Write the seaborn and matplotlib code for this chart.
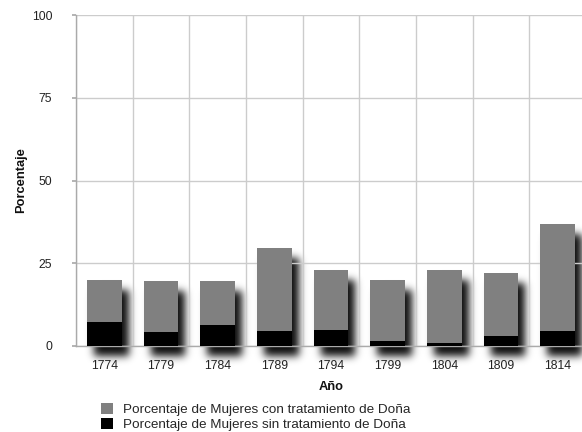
import numpy as np
import pandas as pd
import matplotlib
matplotlib.use('Agg')
import matplotlib.pyplot as plt
import seaborn as sns
from matplotlib.patches import Patch

years = ['1774', '1779', '1784', '1789', '1794', '1799', '1804', '1809', '1814']
con_dona = [19.9, 19.6, 19.6, 29.6, 23.1, 19.9, 23.1, 22.2, 36.8]   # gray bar height
sin_dona = [7.1, 4.1, 6.2, 4.5, 4.8, 1.6, 1.0, 2.9, 4.4]           # black bar height
y_ticks = [0, 25, 50, 75, 100]
legend_labels = ['Porcentaje de Mujeres con tratamiento de Doña',
                 'Porcentaje de Mujeres sin tratamiento de Doña']

GRAY = '#808080'
BLACK = '#000000'
GRID = '#cccccc'
BAR_W = 0.61

sns.set_theme(style='white')
plt.rcParams['font.family'] = ['Liberation Sans', 'DejaVu Sans']

W, H = 582, 432
fig = plt.figure(figsize=(W / 100, H / 100), dpi=100)
fig.patch.set_facecolor('white')
ax = fig.add_axes([76 / W, 86 / H, 510 / W, 331 / H])
ax.set_facecolor('none')

df = pd.DataFrame({'Año': years, 'con': con_dona, 'sin': sin_dona})
sns.barplot(data=df, x='Año', y='con', color=GRAY, saturation=1, width=BAR_W,
            ax=ax, zorder=3, linewidth=0)
sns.barplot(data=df, x='Año', y='sin', color=BLACK, saturation=1, width=BAR_W,
            ax=ax, zorder=4, linewidth=0)

ax.set_xlim(-0.5, len(years) - 0.5)
ax.set_ylim(0, 100)
ax.set_yticks(y_ticks)
ax.set_xticks(np.arange(-0.5, len(years)), minor=True)
ax.grid(which='major', axis='y', color=GRID, lw=1, zorder=0)
ax.grid(which='minor', axis='x', color=GRID, lw=1, zorder=0)
ax.grid(which='major', axis='x', visible=False)
ax.set_axisbelow(True)
for s in ['top', 'right']:
    ax.spines[s].set_visible(False)
for s in ['left', 'bottom']:
    ax.spines[s].set_color('#aaaaaa')
    ax.spines[s].set_linewidth(1)
ax.tick_params(axis='y', which='major', length=3, color='#aaaaaa', labelsize=8.8,
               pad=14, left=True, labelcolor='#222222')
ax.tick_params(axis='x', which='both', length=0, labelsize=8.8, pad=10, labelcolor='#222222')

ax.set_ylabel('Porcentaje', fontweight='bold', fontsize=9.3, color='#111111')
ax.set_xlabel('Año', fontweight='bold', fontsize=9.3, color='#111111')
ax.yaxis.set_label_coords(-0.095, 0.5)
ax.xaxis.set_label_coords(0.5, -0.106)

handles = [Patch(facecolor=GRAY, edgecolor='none'), Patch(facecolor=BLACK, edgecolor='none')]
fig.legend(handles, legend_labels, loc='upper left',
           bbox_to_anchor=(101 / W, 1 - 403 / H), frameon=False, fontsize=9.7,
           handlelength=0.86, handleheight=0.84, handletextpad=0.75, labelspacing=0.16,
           borderaxespad=0, borderpad=0)

# blurred drop shadow behind each bar, computed from the bar geometry
fig.canvas.draw()
mask = np.zeros((H, W))
dx, dy = 7, 10
for i, v in enumerate(con_dona):
    (x0, y0) = ax.transData.transform((i - BAR_W / 2, 0))
    (x1, y1) = ax.transData.transform((i + BAR_W / 2, v))
    c0, c1 = int(round(x0 + dx)), int(round(x1 + dx))
    r0, r1 = int(round(H - y1 + dy)), int(round(H - y0 + dy))
    mask[max(r0, 0):min(r1, H), max(c0, 0):min(c1, W)] = 1.0
sig = 4.0
k = np.arange(-16, 17)
kern = np.exp(-k ** 2 / (2 * sig ** 2))
kern /= kern.sum()
blur = np.apply_along_axis(lambda r: np.convolve(r, kern, mode='same'), 1, mask)
blur = np.apply_along_axis(lambda c: np.convolve(c, kern, mode='same'), 0, blur)
alpha = np.clip(blur * 0.95, 0, 1)
rgba = np.zeros((H, W, 4))
rgba[..., 3] = alpha
fig.figimage(rgba, xo=0, yo=0, origin='upper', zorder=-1)

fig.savefig('out.png', dpi=100)
